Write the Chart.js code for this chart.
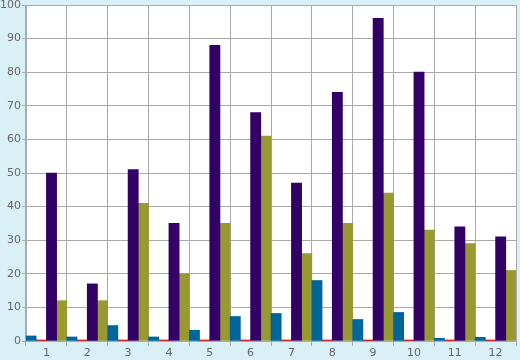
<!DOCTYPE html>
<html>
<head>
<meta charset="utf-8">
<script src="https://cdn.jsdelivr.net/npm/chart.js@4/dist/chart.umd.min.js"></script>
<style>
html,body{margin:0;padding:0;background:#daf0f7;}
#wrap{width:520px;height:360px;}
</style>
</head>
<body>
<div id="wrap"><canvas id="c" width="520" height="360"></canvas></div>
<script>
const categories = ['1','2','3','4','5','6','7','8','9','10','11','12'];
const blueValues   = [1.5, 1.2, 4.6, 1.2, 3.2, 7.3, 8.2, 18, 6.4, 8.5, 0.8, 1.1];
const redValues    = [0.3, 0.3, 0.3, 0.3, 0.3, 0.3, 0.3, 0.3, 0.3, 0.3, 0.3, 0.3];
const purpleValues = [50, 17, 51, 35, 88, 68, 47, 74, 96, 80, 34, 31];
const oliveValues  = [12, 12, 41, 20, 35, 61, 26, 35, 44, 33, 29, 21];
const yTicks = [0,10,20,30,40,50,60,70,80,90,100];

const bgPlugin = {
  id: 'bg',
  beforeDraw(chart) {
    const ctx = chart.ctx, a = chart.chartArea;
    ctx.save();
    ctx.fillStyle = '#daf0f7';
    ctx.fillRect(0, 0, chart.width, chart.height);
    ctx.fillStyle = '#ffffff';
    ctx.fillRect(a.left, a.top, a.right - a.left, a.bottom - a.top);
    ctx.restore();
  }
};

new Chart(document.getElementById('c'), {
  type: 'bar',
  data: {
    labels: categories,
    datasets: [
      { data: blueValues, backgroundColor: '#006699' },
      { data: redValues, backgroundColor: '#cc0000' },
      { data: purpleValues, backgroundColor: '#330066' },
      { data: oliveValues, backgroundColor: '#999933' }
    ]
  },
  options: {
    responsive: false,
    animation: false,
    devicePixelRatio: 1,
    layout: { padding: { left: 0, top: 5, right: 4, bottom: 0 } },
    plugins: { legend: { display: false }, tooltip: { enabled: false } },
    datasets: { bar: { categoryPercentage: 1.0, barPercentage: 1.0, borderWidth: 0 } },
    scales: {
      x: {
        offset: true,
        grid: { offset: true, color: '#aaaaaa', lineWidth: 1, tickLength: 5, drawTicks: true },
        border: { color: '#aaaaaa' },
        ticks: { color: '#666666', font: { family: 'DejaVu Sans', size: 11 }, padding: 1, maxRotation: 0 },
        afterFit(s) { s.height = 19; s.paddingLeft = 0; s.paddingRight = 0; }
      },
      y: {
        min: 0, max: 100,
        afterBuildTicks(s) { s.ticks = yTicks.map(v => ({ value: v })); },
        grid: { color: '#aaaaaa', lineWidth: 1, tickLength: 4 },
        border: { color: '#aaaaaa' },
        ticks: { color: '#666666', font: { family: 'DejaVu Sans', size: 11 }, padding: 1 },
        afterFit(s) { s.width = 26; s.paddingTop = 0; s.paddingBottom = 0; }
      }
    }
  },
  plugins: [bgPlugin]
});
</script>
</body>
</html>
